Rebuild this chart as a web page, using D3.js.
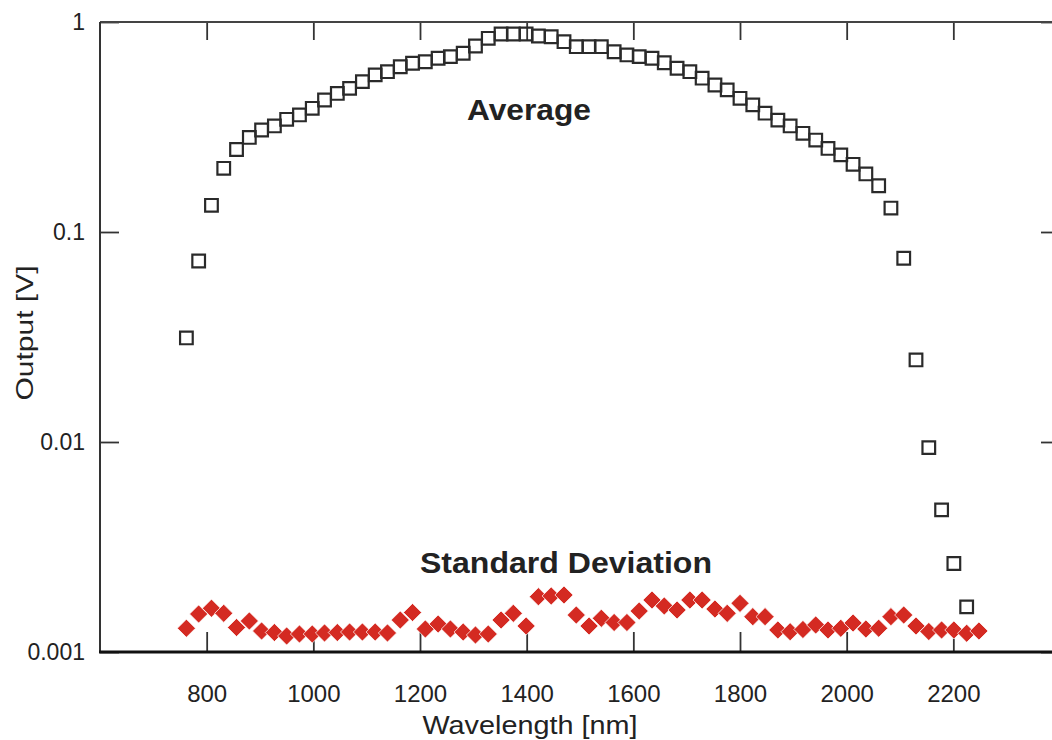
<!DOCTYPE html>
<html>
<head>
<meta charset="utf-8">
<script src="https://cdn.jsdelivr.net/npm/d3@7"></script>
<style>
  html, body { margin: 0; padding: 0; background: #fff; }
  svg { display: block; }
  text { font-family: "Liberation Sans", Arial, sans-serif; fill: #222; }
</style>
</head>
<body>
<svg id="chart" width="1052" height="740"></svg>
<script>
// ---- data ----
const wavelengths = [762, 785, 809, 832, 856, 880, 903, 927, 950, 974, 998, 1021, 1045, 1068, 1092, 1116,
  1139, 1163, 1186, 1210, 1234, 1257, 1281, 1304, 1328, 1352, 1375, 1399, 1422, 1446, 1470, 1493,
  1517, 1540, 1564, 1588, 1611, 1635, 1658, 1682, 1706, 1729, 1753, 1776, 1800, 1824, 1847, 1871,
  1894, 1918, 1942, 1965, 1989, 2012, 2036, 2060, 2083, 2107, 2130, 2154, 2178, 2201, 2225, 2248];

const averageOutput = [0.0313, 0.0728, 0.134, 0.201, 0.247, 0.282, 0.306, 0.320, 0.344, 0.361, 0.388,
  0.425, 0.457, 0.483, 0.520, 0.560, 0.580, 0.612, 0.636, 0.647, 0.672, 0.684, 0.710, 0.769, 0.836,
  0.877, 0.877, 0.877, 0.858, 0.851, 0.806, 0.763, 0.763, 0.763, 0.722, 0.697, 0.684, 0.672, 0.640,
  0.602, 0.580, 0.540, 0.501, 0.475, 0.433, 0.403, 0.368, 0.341, 0.320, 0.295, 0.274, 0.250, 0.233,
  0.210, 0.189, 0.166, 0.130, 0.0750, 0.0246, 0.00940, 0.00475, 0.00264, 0.00164];

const stdDeviation = [0.001297, 0.001517, 0.001615, 0.001528, 0.001308, 0.001405, 0.001259, 0.001238,
  0.001192, 0.001218, 0.001218, 0.001232, 0.001238, 0.001245, 0.001245, 0.001245, 0.001232, 0.001420,
  0.001542, 0.001287, 0.001359, 0.001287, 0.001245, 0.001205, 0.001218, 0.001420, 0.001528, 0.001330,
  0.001834, 0.001848, 0.001868, 0.001500, 0.001330, 0.001447, 0.001382, 0.001382, 0.001567, 0.001768,
  0.001656, 0.001585, 0.001768, 0.001768, 0.001602, 0.001528, 0.001705, 0.001473, 0.001473, 0.001273,
  0.001249, 0.001280, 0.001345, 0.001273, 0.001297, 0.001374, 0.001287, 0.001297, 0.001473, 0.001500,
  0.001330, 0.001252, 0.001273, 0.001273, 0.001228, 0.001259];

const xTicks = [800, 1000, 1200, 1400, 1600, 1800, 2000, 2200];
const yTicks = [0.001, 0.01, 0.1, 1];
const yTickLabels = ["0.001", "0.01", "0.1", "1"];

// ---- layout ----
const svg = d3.select("#chart");
const mLeft = 100, mRight = 1060, mTop = 22, mBottom = 652;

const x = d3.scaleLinear().domain([600, 2400]).range([mLeft, mRight]);
const y = d3.scaleLog().domain([0.001, 1]).range([mBottom, mTop]);

// bottom axis (ticks inward, labels below)
const gB = svg.append("g").attr("transform", `translate(0,${mBottom})`)
  .call(d3.axisBottom(x).tickValues(xTicks).tickSizeInner(-20).tickSizeOuter(0).tickPadding(33)
    .tickFormat(d3.format("d")));
// top axis
const gT = svg.append("g").attr("transform", `translate(0,${mTop})`)
  .call(d3.axisTop(x).tickValues(xTicks).tickSizeInner(-18).tickSizeOuter(0).tickFormat(""));
// left axis
const gL = svg.append("g").attr("transform", `translate(${mLeft},0)`)
  .call(d3.axisLeft(y).tickValues(yTicks).tickSizeInner(-19).tickSizeOuter(0).tickPadding(15)
    .tickFormat((d, i) => yTickLabels[i]));
// right axis
const gR = svg.append("g").attr("transform", `translate(${mRight},0)`)
  .call(d3.axisRight(y).tickValues(yTicks).tickSizeInner(-19).tickSizeOuter(0).tickFormat(""));

[gB, gT, gL, gR].forEach(g => {
  g.select(".domain").remove();
  g.selectAll(".tick line").attr("stroke", "#333").attr("stroke-width", 1.8);
});
gB.selectAll(".tick text").attr("font-size", 24).attr("fill", "#222")
  .attr("font-family", "Liberation Sans, Arial, sans-serif");
gL.selectAll(".tick text").attr("font-size", 23).attr("fill", "#222")
  .attr("font-family", "Liberation Sans, Arial, sans-serif");

// frame
svg.append("line").attr("x1", mLeft).attr("x2", mRight).attr("y1", mTop).attr("y2", mTop)
  .attr("stroke", "#444").attr("stroke-width", 1.8);
svg.append("line").attr("x1", mLeft).attr("x2", mLeft).attr("y1", mTop).attr("y2", mBottom)
  .attr("stroke", "#333").attr("stroke-width", 2);
svg.append("line").attr("x1", mRight).attr("x2", mRight).attr("y1", mTop).attr("y2", mBottom)
  .attr("stroke", "#333").attr("stroke-width", 2);

// average: open squares
const sq = d3.symbol(d3.symbolSquare, 160)();
svg.append("g").selectAll("path").data(averageOutput).join("path")
  .attr("d", sq)
  .attr("transform", (d, i) => `translate(${x(wavelengths[i])},${y(d)})`)
  .attr("fill", "none").attr("stroke", "#2a2a2a").attr("stroke-width", 2.2);

// standard deviation: red diamonds
const dm = d3.symbol(d3.symbolSquare, 165)();
svg.append("g").selectAll("path").data(stdDeviation).join("path")
  .attr("d", dm)
  .attr("transform", (d, i) => `translate(${x(wavelengths[i])},${y(d)}) rotate(45)`)
  .attr("fill", "#d42a22").attr("stroke", "#fff").attr("stroke-width", 0.7);

// bottom frame line drawn last (heavy)
svg.append("line").attr("x1", mLeft - 1).attr("x2", mRight).attr("y1", mBottom).attr("y2", mBottom)
  .attr("stroke", "#111").attr("stroke-width", 3);

// annotations
svg.append("text").attr("x", 529).attr("y", 120).attr("text-anchor", "middle")
  .attr("font-size", 29).attr("font-weight", "bold")
  .attr("textLength", 124).attr("lengthAdjust", "spacingAndGlyphs").text("Average");
svg.append("text").attr("x", 566).attr("y", 573).attr("text-anchor", "middle")
  .attr("font-size", 29).attr("font-weight", "bold")
  .attr("textLength", 292).attr("lengthAdjust", "spacingAndGlyphs").text("Standard Deviation");

// axis titles
svg.append("text").attr("x", 530).attr("y", 734).attr("text-anchor", "middle")
  .attr("font-size", 25).attr("textLength", 215).attr("lengthAdjust", "spacingAndGlyphs")
  .text("Wavelength [nm]");
svg.append("text").attr("transform", "translate(33,333) rotate(-90)").attr("text-anchor", "middle")
  .attr("font-size", 24).attr("textLength", 135).attr("lengthAdjust", "spacingAndGlyphs")
  .text("Output [V]");
</script>
</body>
</html>
